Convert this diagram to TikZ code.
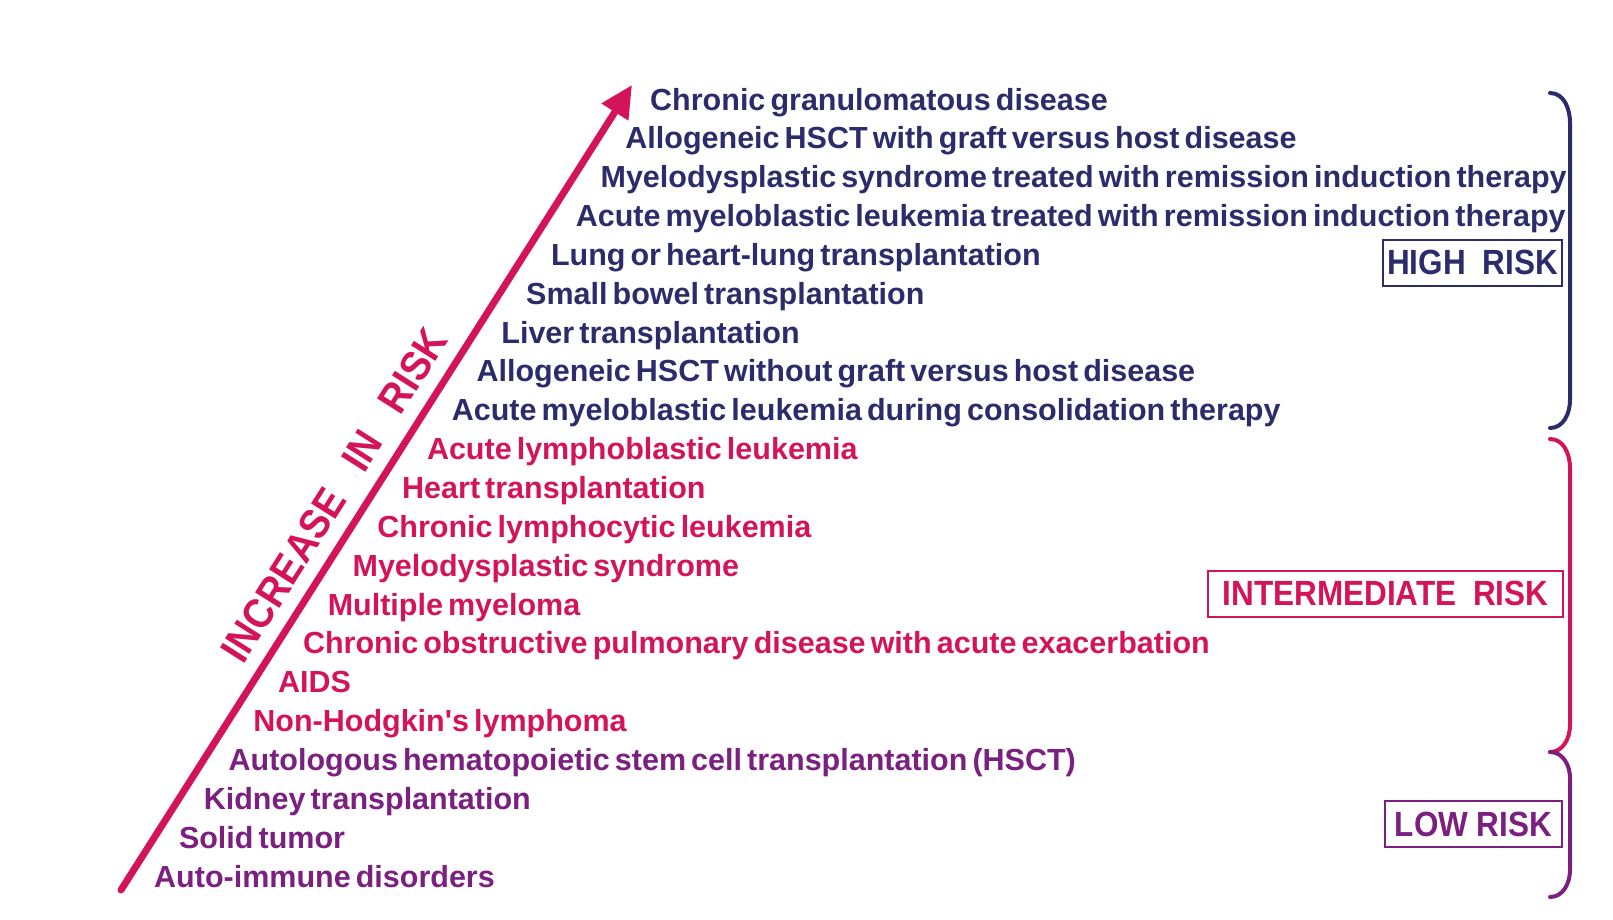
\documentclass[tikz,border=0pt]{standalone}
\usepackage{fontspec}
\setmainfont{Liberation Sans}
\newfontfamily\itemfont[WordSpace=0.6]{Liberation Sans}
\newfontfamily\labfont[FakeStretch=0.9]{Liberation Sans}
\usetikzlibrary{arrows.meta}
\definecolor{navy}{HTML}{2C2B6B}
\definecolor{crim}{HTML}{D4145A}
\definecolor{purp}{HTML}{7B1F80}
\tikzset{
  item/.style={anchor=base west, inner sep=0pt, font=\itemfont\bfseries\fontsize{30.5}{30.5}\selectfont},
  hi/.style={item, text=navy},
  mid/.style={item, text=crim},
  lo/.style={item, text=purp},
  riskbox/.style={draw, line width=2pt, inner sep=0pt, minimum height=46pt, font=\labfont\bfseries\fontsize{35}{35}\selectfont},
  brace/.style={line width=4pt, line cap=round}
}
\begin{document}
\begin{tikzpicture}[x=1pt,y=-1pt]
\useasboundingbox (0,0) rectangle (1613,919);
% arrow
\coordinate (abase) at (121,890);
\coordinate (atip) at (632,85);
\draw[crim, line width=7pt, line cap=round, -{Triangle[length=32pt,width=30pt]}] (abase) -- (atip);
\node[text=crim, rotate=57.6, inner sep=0pt, font=\labfont\bfseries\fontsize{42}{42}\selectfont] (inc) at (334,495) {INCREASE\hspace{20pt} IN\hspace{20pt} RISK};
% items
\node[hi] (t1) at (650,110) {Chronic granulomatous disease};
\node[hi] (t2) at (625.2,148.85) {Allogeneic HSCT with graft versus host disease};
\node[hi] (t3) at (600.4,187.7) {Myelodysplastic syndrome treated with remission induction therapy};
\node[hi] (t4) at (575.6,226.55) {Acute myeloblastic leukemia treated with remission induction therapy};
\node[hi] (t5) at (550.8,265.4) {Lung or heart-lung transplantation};
\node[hi] (t6) at (526,304.25) {Small bowel transplantation};
\node[hi] (t7) at (501.2,343.1) {Liver transplantation};
\node[hi] (t8) at (476.4,381.95) {Allogeneic HSCT without graft versus host disease};
\node[hi] (t9) at (451.6,420.8) {Acute myeloblastic leukemia during consolidation therapy};
\node[mid] (t10) at (426.8,459.65) {Acute lymphoblastic leukemia};
\node[mid] (t11) at (402,498.5) {Heart transplantation};
\node[mid] (t12) at (377.2,537.35) {Chronic lymphocytic leukemia};
\node[mid] (t13) at (352.4,576.2) {Myelodysplastic syndrome};
\node[mid] (t14) at (327.6,615.05) {Multiple myeloma};
\node[mid] (t15) at (302.8,653.9) {Chronic obstructive pulmonary disease with acute exacerbation};
\node[mid] (t16) at (278,692.75) {AIDS};
\node[mid] (t17) at (253.2,731.6) {Non-Hodgkin's lymphoma};
\node[lo] (t18) at (228.4,770.45) {Autologous hematopoietic stem cell transplantation (HSCT)};
\node[lo] (t19) at (203.6,809.3) {Kidney transplantation};
\node[lo] (t20) at (178.8,848.15) {Solid tumor};
\node[lo] (t21) at (154,887) {Auto-immune disorders};
% braces
\coordinate (h1) at (1550,93); \coordinate (h2) at (1570,123);
\coordinate (h3) at (1570,400); \coordinate (h4) at (1550,428);
\draw[brace, navy] (h1) to[out=0,in=90] (h2) -- (h3) to[out=-90,in=0] (h4);
\coordinate (m1) at (1550,439); \coordinate (m2) at (1570,468);
\coordinate (m3) at (1570,725); \coordinate (m4) at (1550,752);
\draw[brace, crim] (m1) to[out=0,in=90] (m2) -- (m3) to[out=-90,in=0] (m4);
\coordinate (l1) at (1550,752); \coordinate (l2) at (1570,778);
\coordinate (l3) at (1570,870); \coordinate (l4) at (1550,897);
\draw[brace, purp] (l1) to[out=0,in=90] (l2) -- (l3) to[out=-90,in=0] (l4);
% risk labels
\node[riskbox, navy, minimum width=179pt] (high) at (1472.5,262.5) {HIGH\hspace{8pt} RISK};
\node[riskbox, crim, minimum width=355pt] (inter) at (1385.5,593.5) {INTERMEDIATE\hspace{8pt} RISK};
\node[riskbox, purp, minimum width=177pt] (low) at (1473.5,824) {LOW RISK};
\end{tikzpicture}
\end{document}
